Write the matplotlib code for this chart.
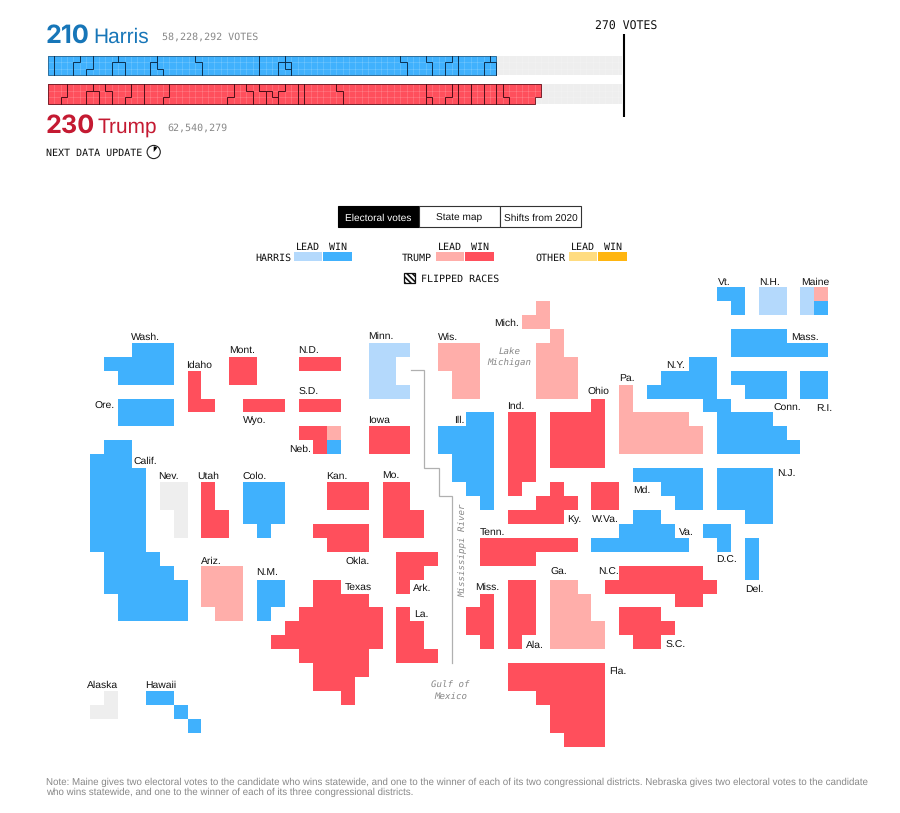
import matplotlib
matplotlib.use('Agg')
import matplotlib.pyplot as plt
from matplotlib.patches import Rectangle, Circle, Wedge

plt.rcParams['text.hinting'] = 'no_hinting'
plt.rcParams['hatch.linewidth'] = 1.2

# colours
BLUE_WIN = '#40b1fd'
BLUE_LEAD = '#b4d9fc'
RED_WIN = '#ff4f5c'
RED_LEAD = '#ffaeaa'
GRAY = '#eeeeee'
ORANGE_LEAD = '#ffdc80'
ORANGE_WIN = '#ffb510'

# totals
harris_votes = 210
trump_votes = 230
needed_votes = 270
harris_popular = '58,228,292 VOTES'
trump_popular = '62,540,279'

# state separators in the vote bars, column reached in each of the 3 rows
harris_seps = [(1, 1, 1), (5, 4, 4), (7, 7, 6), (11, 10, 10), (11, 12, 12), (17, 16, 16), (17, 17, 18),
               (23, 24, 24), (33, 33, 33), (37, 36, 36), (37, 38, 38), (37, 37, 38), (55, 56, 56),
               (59, 60, 60), (63, 62, 62), (64, 64, 64), (69, 68, 68), (69, 70, 70)]
trump_seps = [(3, 3, 2), (7, 6, 6), (7, 8, 8), (9, 10, 10), (13, 13, 12), (15, 15, 15), (19, 19, 18),
              (29, 29, 28), (31, 32, 32), (33, 34, 34), (33, 35, 36), (37, 36, 36), (39, 39, 39),
              (40, 40, 40), (45, 46, 46), (59, 59, 59), (59, 59, 60), (63, 63, 62), (64, 64, 64),
              (66, 66, 66), (68, 68, 68), (70, 70, 70), (71, 71, 72)]

# tile map, each state is (row, first col, end col)
wash = [(3, 3, 6), (4, 1, 6), (5, 2, 6)]
ore = [(7, 2, 6), (8, 2, 6)]
calif = [(10, 1, 3), (11, 0, 3)] + [(r, 0, 4) for r in range(12, 18)] + [(18, 1, 5), (19, 1, 6), (20, 1, 7), (21, 2, 7), (22, 2, 7)]
colo = [(13, 11, 14), (14, 11, 14), (15, 11, 14), (16, 12, 13)]
nm = [(20, 12, 14), (21, 12, 14), (22, 12, 13)]
minn = [(3, 20, 23), (4, 20, 22), (5, 20, 22), (6, 20, 23)]
ill = [(8, 27, 29), (9, 25, 29), (10, 25, 29), (11, 26, 29), (12, 26, 29), (13, 27, 29), (14, 28, 29)]
vt = [(-1, 45, 47), (0, 46, 47)]
nh = [(-1, 48, 50), (0, 48, 50)]
mass = [(2, 46, 50), (3, 46, 53)]
conn = [(5, 46, 50), (6, 47, 50)]
ri = [(5, 51, 53), (6, 51, 53)]
ny = [(4, 43, 45), (5, 41, 45), (6, 40, 45), (7, 44, 46), (8, 45, 49), (9, 45, 50), (10, 45, 51)]
md = [(12, 39, 44), (13, 41, 44), (14, 42, 44)]
nj = [(12, 45, 49), (13, 45, 49), (14, 45, 49), (15, 47, 49)]
dele = [(17, 47, 48), (18, 47, 48), (19, 47, 48)]
dc = [(16, 44, 46), (17, 45, 46)]
va = [(15, 39, 41), (16, 38, 42), (17, 36, 43)]
hawaii = [(28, 4, 6), (29, 6, 7), (30, 7, 8)]
maine_lead_h = [(-1, 51, 52), (0, 51, 52)]
maine_win_h = [(0, 52, 53)]
maine_lead_t = [(-1, 52, 53)]
neb_win_h = [(10, 17, 18)]
neb_lead_t = [(9, 17, 18)]

idaho = [(5, 7, 8), (6, 7, 8), (7, 7, 9)]
mont = [(4, 10, 12), (5, 10, 12)]
wyo = [(7, 11, 14)]
nd = [(4, 15, 18)]
sd = [(7, 15, 18)]
neb = [(9, 15, 17), (10, 16, 17)]
utah = [(13, 8, 9), (14, 8, 9), (15, 8, 10), (16, 8, 10)]
kan = [(13, 17, 20), (14, 17, 20)]
okla = [(16, 16, 20), (17, 17, 20)]
texas = [(20, 16, 18), (21, 16, 20), (22, 15, 21), (23, 14, 21), (24, 13, 21), (25, 15, 20), (26, 16, 20), (27, 16, 19), (28, 18, 19)]
iowa = [(9, 20, 23), (10, 20, 23)]
mo = [(13, 21, 23), (14, 21, 23), (15, 21, 24), (16, 21, 24)]
ark = [(18, 22, 25), (19, 22, 24), (20, 22, 23)]
la = [(22, 22, 23), (23, 22, 24), (24, 22, 24), (25, 22, 25)]
ind = [(r, 30, 32) for r in range(8, 13)] + [(13, 30, 31)]
ohio = [(7, 36, 37)] + [(r, 33, 37) for r in range(8, 12)]
ky = [(13, 33, 34), (14, 32, 35), (15, 30, 34)]
wva = [(13, 36, 38), (14, 36, 38)]
tenn = [(17, 28, 35), (18, 28, 32)]
miss = [(21, 28, 29), (22, 27, 29), (23, 27, 29), (24, 28, 29)]
ala = [(20, 30, 32), (21, 30, 32), (22, 30, 32), (23, 30, 32), (24, 30, 31)]
fla = [(26, 30, 37), (27, 30, 37), (28, 32, 37), (29, 33, 37), (30, 33, 37), (31, 34, 37)]
nc = [(19, 38, 44), (20, 37, 45), (21, 42, 44)]
sc = [(22, 38, 41), (23, 38, 42), (24, 39, 41)]

wis = [(3, 25, 28), (4, 25, 28), (5, 26, 28), (6, 26, 28)]
mich = [(0, 32, 33), (1, 31, 33), (2, 33, 34), (3, 32, 34), (4, 32, 35), (5, 32, 35), (6, 32, 35)]
pa = [(6, 38, 39), (7, 38, 39), (8, 38, 43), (9, 38, 44), (10, 38, 44)]
ariz = [(19, 8, 11), (20, 8, 11), (21, 8, 11), (22, 9, 11)]
ga = [(20, 33, 35), (21, 33, 36), (22, 33, 36), (23, 33, 37), (24, 33, 37)]

nev = [(13, 5, 7), (14, 5, 7), (15, 6, 7), (16, 6, 7)]
alaska = [(28, 1, 2), (29, 0, 2)]

harris_win = [wash, ore, calif, colo, nm, ill, vt, mass, conn, ri, ny, md, nj, dele, dc, va, hawaii, maine_win_h, neb_win_h]
harris_lead = [minn, nh, maine_lead_h]
trump_win = [idaho, mont, wyo, nd, sd, neb, utah, kan, okla, texas, iowa, mo, ark, la, ind, ohio, ky, wva, tenn, miss, ala, fla, nc, sc]
trump_lead = [wis, mich, pa, ariz, ga, maine_lead_t, neb_lead_t]
not_called = [nev, alaska]

state_labels = ['Wash.', 'Idaho', 'Mont.', 'N.D.', 'Ore.', 'S.D.', 'Wyo.', 'Neb.', 'Calif.', 'Nev.', 'Utah', 'Colo.',
                'Kan.', 'Minn.', 'Iowa', 'Wis.', 'Mich.', 'Ill.', 'Ind.', 'Ohio', 'Mo.', 'Ky.', 'W.Va.', 'Tenn.',
                'Pa.', 'Vt.', 'N.H.', 'Maine', 'Mass.', 'N.Y.', 'Conn.', 'R.I.', 'N.J.', 'Md.', 'Va.', 'D.C.',
                'Del.', 'N.C.', 'S.C.', 'Okla.', 'Ariz.', 'N.M.', 'Texas', 'Alaska', 'Hawaii', 'Ark.', 'La.',
                'Miss.', 'Ga.', 'Ala.', 'Fla.']
label_x = [131.7, 187, 229.3, 299, 95, 299, 243.3, 289.7, 134.3, 159, 198, 243,
           326.7, 368.7, 368.7, 438.3, 494.7, 455, 508, 588, 382.7, 567.7, 592.5, 480.7,
           620, 718, 760, 801.7, 791.3, 666.7, 773.7, 816.7, 778, 633.7, 679, 716.7,
           746, 598.3, 665.7, 345.7, 201.7, 257, 345, 87.7, 145.7, 413, 414.7,
           475.7, 550.7, 526.3, 610]
label_y = [336, 363.7, 349.3, 349.3, 405, 391.3, 419.3, 447.7, 460.3, 475.3, 475.3, 475.3,
           474.7, 335, 419.3, 335.7, 322, 419.3, 405, 390, 474.3, 518, 518, 531,
           376.7, 281, 281, 281, 336, 363.7, 406.7, 406.7, 472, 489.3, 531, 558.7,
           588.3, 571.3, 644.3, 560.3, 560.3, 571.3, 585.7, 684, 684, 587, 613,
           586.3, 571.3, 644.3, 669.7]

note_lines = ['Note: Maine gives two electoral votes to the candidate who wins statewide, and one to the winner of each of its two congressional districts. Nebraska gives two electoral votes to the candidate',
              'who wins statewide, and one to the winner of each of its three congressional districts.']

SANS = 'Liberation Sans'
MONO = 'DejaVu Sans Mono'
BIG = 'Inter'
DY = 1.3  # va='center' sits a bit high

fig = plt.figure(figsize=(9, 8.13), dpi=100)
ax = fig.add_axes([0, 0, 1, 1])
ax.set_xlim(0, 900)
ax.set_ylim(813, 0)
ax.axis('off')

# vote bars
BAR_X = 47.7
CELL_W = 6.41
CELL_H = 6.5
GRAY_END = 622.3


def draw_bar(top, votes, color, seps, sep_color, edge_color):
    for v in range(needed_votes):
        col, row = v // 3, v % 3
        x0 = BAR_X + col * CELL_W
        x1 = min(x0 + CELL_W, GRAY_END)
        c = color if v < votes else GRAY
        ax.add_patch(Rectangle((x0, top + row * CELL_H), x1 - x0, CELL_H, fc=c, lw=0, antialiased=False))
    for k in range(1, needed_votes // 3):
        ax.plot([BAR_X + k * CELL_W] * 2, [top, top + 3 * CELL_H], color='white', alpha=0.2, lw=0.5, zorder=2)
    for r in (1, 2):
        ax.plot([BAR_X, GRAY_END], [top + r * CELL_H] * 2, color='white', alpha=0.2, lw=0.5, zorder=2)
    # outline
    cols = [(votes + 2 - r) // 3 for r in range(3)]
    xs = [BAR_X, BAR_X + cols[0] * CELL_W]
    ys = [top, top]
    for r in range(3):
        xs += [BAR_X + cols[r] * CELL_W] * 2
        ys += [top + r * CELL_H, top + (r + 1) * CELL_H]
    xs += [BAR_X, BAR_X]
    ys += [top + 3 * CELL_H, top]
    ax.plot(xs, ys, color=edge_color, lw=0.7, zorder=3)
    for sep in seps:
        xs, ys = [], []
        for r in range(3):
            xs += [BAR_X + sep[r] * CELL_W] * 2
            ys += [top + r * CELL_H, top + (r + 1) * CELL_H]
        ax.plot(xs, ys, color=sep_color, lw=0.7, zorder=4, solid_joinstyle='miter')


draw_bar(55.7, harris_votes, BLUE_WIN, harris_seps, '#0c3050', '#2f6f9c')
draw_bar(84.2, trump_votes, RED_WIN, trump_seps, '#4d0f18', '#7a1f2a')
ax.plot([624.4, 624.4], [34, 116.7], color='black', lw=1.5, solid_capstyle='butt', zorder=5)

ax.text(46, 42.3, str(harris_votes), family=BIG, weight='bold', fontsize=18.2, color='#1776b8', va='baseline')
ax.text(93.5, 42.3, 'Harris', family=SANS, fontsize=15, color='#1776b8', va='baseline')
ax.text(162, 35.5 + DY, harris_popular, family=MONO, fontsize=7.2, color='#888888', va='center')
ax.text(46, 132.7, str(trump_votes), family=BIG, weight='bold', fontsize=18.2, color='#c41a32', va='baseline')
ax.text(98, 132.7, 'Trump', family=SANS, fontsize=15, color='#c41a32', va='baseline')
ax.text(167, 127 + DY, trump_popular, family=MONO, fontsize=7.2, color='#888888', va='center')
ax.text(46, 152 + DY, 'NEXT DATA UPDATE', family=MONO, fontsize=7.2, color='#111111', va='center')
ax.text(595, 25.5 + DY, '270 VOTES', family=MONO, fontsize=8.3, color='#111111', va='center')
ax.add_patch(Circle((153.7, 152), 6.6, fc='white', ec='#222222', lw=0.8))
ax.add_patch(Wedge((153.7, 152), 5.6, 270, 310, fc='black', lw=0))

# toggle
ax.add_patch(Rectangle((337.7, 206), 81.3, 21, fc='black', ec='black', lw=0.8))
ax.add_patch(Rectangle((419, 206), 81, 21, fc='white', ec='#333333', lw=0.8))
ax.add_patch(Rectangle((500, 206), 81, 21, fc='white', ec='#333333', lw=0.8))
ax.text(378.4, 217.3 + DY, 'Electoral votes', family=SANS, fontsize=7.3, color='white', ha='center', va='center')
ax.text(459.5, 217.3 + DY, 'State map', family=SANS, fontsize=7.3, color='#111111', ha='center', va='center')
ax.text(540.5, 217.3 + DY, 'Shifts from 2020', family=SANS, fontsize=7.3, color='#111111', ha='center', va='center')

# legend
legend_names = ['HARRIS', 'TRUMP', 'OTHER']
legend_right = [291, 432, 565.7]
lead_left = [294, 436, 569]
win_left = [323.3, 465.3, 598.3]
lead_colors = [BLUE_LEAD, RED_LEAD, ORANGE_LEAD]
win_colors = [BLUE_WIN, RED_WIN, ORANGE_WIN]
for i in range(3):
    ax.text(legend_right[i], 256.3 + DY, legend_names[i], family=MONO, fontsize=7.2, color='#111111', ha='right', va='center')
    ax.add_patch(Rectangle((lead_left[i], 252.3), 28.2, 8.8, fc=lead_colors[i], lw=0))
    ax.add_patch(Rectangle((win_left[i], 252.3), 28.4, 8.8, fc=win_colors[i], lw=0))
    ax.text(lead_left[i] + 14.3, 245.7 + DY, 'LEAD', family=MONO, fontsize=7.2, color='#111111', ha='center', va='center')
    ax.text(win_left[i] + 14.3, 245.7 + DY, 'WIN', family=MONO, fontsize=7.2, color='#111111', ha='center', va='center')
ax.add_patch(Rectangle((404, 272.5), 10.8, 10, fc='white', ec='#111111', lw=0.9, hatch='\\\\\\\\\\\\'))
ax.text(421, 278 + DY, 'FLIPPED RACES', family=MONO, fontsize=7.2, color='#111111', va='center')

# tile map
GRID_X = 90
GRID_Y = 301
TILE = 13.93


def draw_states(states, color):
    for state in states:
        for row, c0, c1 in state:
            x0 = GRID_X + c0 * TILE
            y0 = GRID_Y + row * TILE
            ax.add_patch(Rectangle((x0, y0), (c1 - c0) * TILE, TILE, fc=color, lw=0, antialiased=False))


draw_states(harris_win, BLUE_WIN)
draw_states(harris_lead, BLUE_LEAD)
draw_states(trump_win, RED_WIN)
draw_states(trump_lead, RED_LEAD)
draw_states(not_called, GRAY)

for name, x, y in zip(state_labels, label_x, label_y):
    ax.text(x - 0.5, y + DY, name, family=SANS, fontsize=7.5, color='#111111', va='center')

# river and water labels
river_x = [410.7, 424.3, 424.3, 438.7, 438.7, 452.4, 452.4]
river_y = [370.3, 370.3, 468, 468, 496, 496, 663]
ax.plot(river_x, river_y, color='#b0b0b0', lw=0.9, solid_joinstyle='miter')
water = dict(family=MONO, style='italic', fontsize=6.6, color='#888888', ha='center', va='center')
ax.text(509.5, 350 + DY, 'Lake', **water)
ax.text(509.5, 361.3 + DY, 'Michigan', **water)
ax.text(450.7, 683.7 + DY, 'Gulf of', **water)
ax.text(450.7, 695.3 + DY, 'Mexico', **water)
ax.text(462.5, 550.5, 'Mississippi River', rotation=90, **water)

# note
ax.text(46, 781 + DY, note_lines[0], family=SANS, fontsize=7.0, color='#888888', va='center')
ax.text(46, 791.5 + DY, note_lines[1], family=SANS, fontsize=7.0, color='#888888', va='center')

fig.savefig('out.png', dpi=100)
